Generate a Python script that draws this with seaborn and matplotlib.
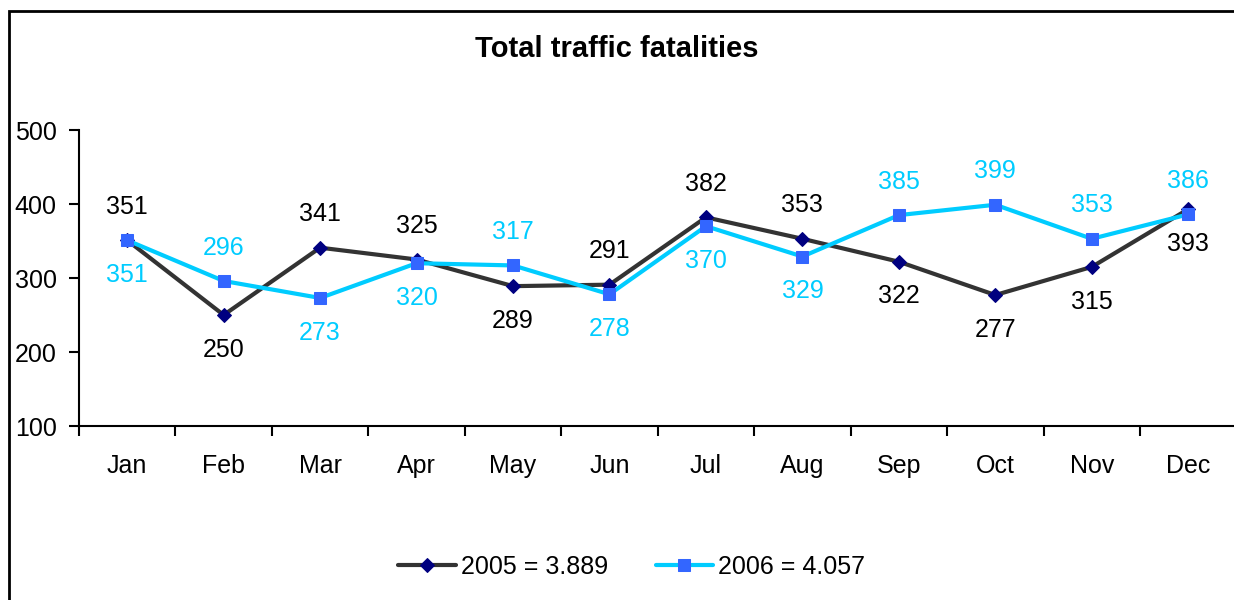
import seaborn as sns
import matplotlib.pyplot as plt
import pandas as pd
from matplotlib.patches import Rectangle

months = ["Jan", "Feb", "Mar", "Apr", "May", "Jun", "Jul", "Aug", "Sep", "Oct", "Nov", "Dec"]
fat_2005 = [351, 250, 341, 325, 289, 291, 382, 353, 322, 277, 315, 393]
fat_2006 = [351, 296, 273, 320, 317, 278, 370, 329, 385, 399, 353, 386]
# +1 = label above the point, -1 = below
pos_2005 = [1, -1, 1, 1, -1, 1, 1, 1, -1, -1, -1, -1]
pos_2006 = [-1, 1, -1, -1, 1, -1, -1, -1, 1, 1, 1, 1]

sns.set_style("white")
plt.rcParams["font.family"] = ["Liberation Sans", "DejaVu Sans"]
plt.rcParams["text.color"] = "black"
plt.rcParams["xtick.color"] = "black"
plt.rcParams["ytick.color"] = "black"

df = pd.DataFrame({"x": range(len(months)), "y2005": fat_2005, "y2006": fat_2006})

fig = plt.figure(figsize=(12.34, 6), dpi=100)
ax = fig.add_axes([0.064, 0.29, 0.938, 0.4933])

sns.lineplot(data=df, x="x", y="y2005", ax=ax, color="#333333", lw=3,
             marker="D", markersize=7, markerfacecolor="#000080",
             markeredgecolor="#000080", label="2005 = 3.889")
sns.lineplot(data=df, x="x", y="y2006", ax=ax, color="#00CCFF", lw=3,
             marker="s", markersize=8, markerfacecolor="#3366FF",
             markeredgecolor="#3366FF", label="2006 = 4.057")

for i in range(len(months)):
    off5 = 24 if pos_2005[i] > 0 else -25
    off6 = 24 if pos_2006[i] > 0 else -25
    ax.annotate(str(fat_2005[i]), (i, fat_2005[i]), xytext=(0, off5),
                textcoords="offset points", ha="center", va="center",
                fontsize=18, color="black")
    ax.annotate(str(fat_2006[i]), (i, fat_2006[i]), xytext=(0, off6),
                textcoords="offset points", ha="center", va="center",
                fontsize=18, color="#00CCFF")

ax.set_xlim(-0.5, len(months) - 0.5)
ax.set_ylim(100, 500)
ax.set_yticks([100, 200, 300, 400, 500])
ax.set_xticks(range(len(months)))
ax.set_xticklabels(months)
ax.set_xticks([i - 0.5 for i in range(len(months) + 1)], minor=True)
ax.tick_params(axis="x", which="major", length=0, pad=20, labelsize=18)
ax.tick_params(axis="x", which="minor", length=7, width=1.5, direction="out", bottom=True)
ax.tick_params(axis="y", length=7, width=1.5, direction="out", left=True, labelsize=18, pad=9)
ax.set_xlabel("")
ax.set_ylabel("")
for s in ["top", "right"]:
    ax.spines[s].set_visible(False)
for s in ["left", "bottom"]:
    ax.spines[s].set_linewidth(1.5)
    ax.spines[s].set_color("black")

fig.text(0.5, 0.919, "Total traffic fatalities", ha="center", va="center",
         fontsize=21, fontweight="bold")

ax.legend(loc="center", bbox_to_anchor=(0.512, 0.055), bbox_transform=fig.transFigure,
          ncol=2, frameon=False, fontsize=18, handlelength=2.3, columnspacing=1.9,
          handletextpad=0.2)

fig.patches.append(Rectangle((9 / 1234, -0.1), 1.2, 1 - 11 / 600 + 0.1,
                             transform=fig.transFigure, fill=False, lw=2,
                             edgecolor="black"))

fig.savefig("out.png", dpi=100)
